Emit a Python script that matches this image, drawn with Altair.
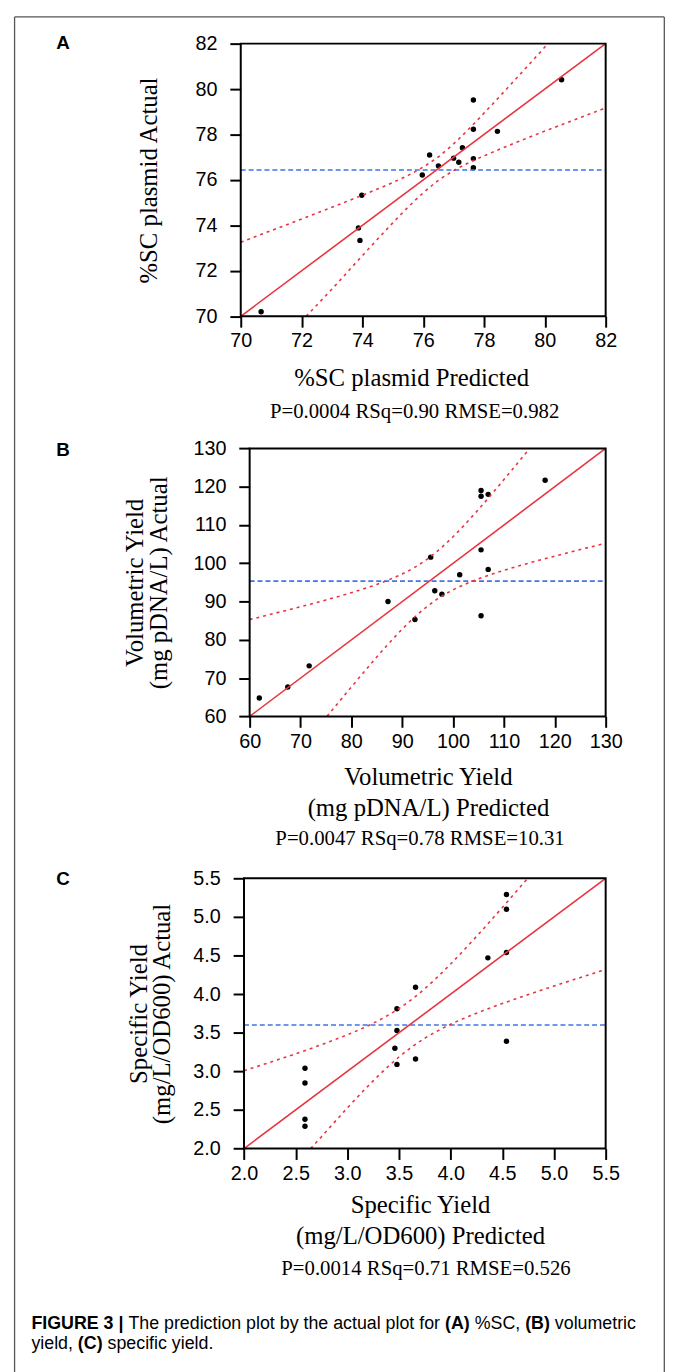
import altair as alt
import pandas as pd

# ---------------- data ----------------
# Panel A: %SC plasmid
a_pred = [70.67, 73.87, 73.92, 73.98, 75.97, 76.21, 76.50, 77.00, 77.17, 77.29, 77.65, 77.65, 77.65, 77.65, 78.44, 80.55]
a_act = [70.20, 73.89, 73.34, 75.33, 76.22, 77.10, 76.62, 76.96, 76.78, 77.42, 79.52, 78.23, 76.94, 76.54, 78.14, 80.41]
a_mean = 76.44
a_up_x = [70, 71, 72, 73, 74, 75, 75.5, 76, 76.5, 77, 77.5, 78, 79, 80, 80.1]
a_up_y = [73.26, 73.77, 74.28, 74.80, 75.33, 75.89, 76.20, 76.57, 77.02, 77.59, 78.24, 78.94, 80.38, 81.85, 82.0]
a_lo_x = [72.15, 73, 74, 75, 75.5, 76, 76.5, 77, 77.5, 78, 79, 80, 81, 82]
a_lo_y = [70.0, 71.20, 72.67, 74.11, 74.80, 75.43, 75.98, 76.41, 76.76, 77.06, 77.62, 78.15, 78.66, 79.17]
a_dom = [70, 82]
a_ticks = [70, 72, 74, 76, 78, 80, 82]

# Panel B: volumetric yield
b_pred = [61.9, 67.5, 71.7, 87.2, 92.5, 95.6, 96.4, 97.8, 101.3, 105.5, 105.5, 106.9, 105.5, 106.9, 105.5, 118.1]
b_act = [64.8, 67.7, 73.2, 90.0, 85.3, 101.6, 92.8, 91.9, 97.0, 119.0, 117.5, 118.0, 103.5, 98.4, 86.3, 121.7]
b_mean = 95.34
b_up_x = [60, 65, 70, 75, 80, 85, 90, 92.5, 95, 97.5, 100, 105, 110, 115.05]
b_up_y = [85.29, 86.95, 88.65, 90.42, 92.32, 94.48, 97.21, 98.98, 101.17, 103.83, 106.94, 114.07, 121.85, 130.0]
b_lo_x = [75.2, 80, 85, 90, 92.5, 95, 97.5, 100, 105, 110, 115, 120, 125, 130]
b_lo_y = [60.0, 67.68, 75.52, 82.79, 86.02, 88.83, 91.17, 93.06, 95.93, 98.15, 100.09, 101.88, 103.58, 105.25]
b_dom = [60, 130]
b_ticks = [60, 70, 80, 90, 100, 110, 120, 130]

# Panel C: specific yield
c_pred = [2.59, 2.59, 2.59, 2.59, 3.48, 3.48, 3.46, 3.48, 3.66, 3.66, 4.36, 4.54, 4.54, 4.54, 4.54]
c_act = [3.04, 2.85, 2.38, 2.29, 3.81, 3.53, 3.30, 3.09, 4.09, 3.16, 4.47, 5.29, 5.10, 4.54, 3.39]
c_mean = 3.60
c_up_x = [2.0, 2.25, 2.5, 2.75, 3.0, 3.25, 3.4, 3.5, 3.6, 3.75, 4.0, 4.25, 4.5, 4.745]
c_up_y = [3.008, 3.117, 3.228, 3.346, 3.474, 3.623, 3.731, 3.814, 3.908, 4.071, 4.391, 4.747, 5.122, 5.5]
c_lo_x = [2.645, 2.75, 3.0, 3.25, 3.4, 3.5, 3.6, 3.75, 4.0, 4.25, 4.5, 4.75, 5.0, 5.25, 5.5]
c_lo_y = [2.0, 2.154, 2.526, 2.877, 3.069, 3.186, 3.292, 3.429, 3.609, 3.753, 3.878, 3.994, 4.105, 4.213, 4.319]
c_dom = [2.0, 5.5]
c_ticks = [2.0, 2.5, 3.0, 3.5, 4.0, 4.5, 5.0, 5.5]

stats = ["P=0.0004 RSq=0.90 RMSE=0.982",
         "P=0.0047 RSq=0.78 RMSE=10.31",
         "P=0.0014 RSq=0.71 RMSE=0.526"]

# ---------------- styling ----------------
RED = "#e8343f"
BLUE = "#3f74ea"
SERIF = "Liberation Serif"
SANS = "Liberation Sans"
W = 369
one = pd.DataFrame({"k": [0]})


def text_layer(txt, x, y, size, font=SANS, weight="normal", align="center"):
    return alt.Chart(one).mark_text(
        font=font, fontSize=size, fontWeight=weight, color="black",
        align=align, baseline="middle"
    ).encode(x=alt.value(x), y=alt.value(y), text=alt.value(txt))


def rule_layer(x, x2, y, y2, color="#555555", width=1.3):
    return alt.Chart(one).mark_rule(color=color, strokeWidth=width).encode(
        x=alt.value(x), x2=alt.value(x2), y=alt.value(y), y2=alt.value(y2))


def panel(pred, act, mean, upx, upy, lox, loy, dom, ticks, fmt,
          H, top, x0, ytitle, ytx, yty, ylh, xtitle, xtx, xty, extra):
    xs = alt.Scale(domain=dom, range=[x0, W], nice=False, zero=False)
    ys = alt.Scale(domain=dom, range=[H, top], nice=False, zero=False)
    common = dict(labelFont=SANS, labelFontSize=20, labelColor="black",
                  tickSize=11, tickWidth=2, tickColor="black", domain=False,
                  grid=False, labelFlush=False, labelOverlap=False,
                  values=ticks, format=fmt,
                  titleFont=SERIF, titleFontSize=25, titleFontWeight="normal",
                  titleColor="black", titleBaseline="middle", titleAlign="center")
    xaxis = alt.Axis(title=xtitle, labelPadding=4, titleX=xtx, titleY=xty,
                     titleLineHeight=31, **common)
    yopts = dict(title=ytitle, labelPadding=13, titleX=ytx, titleY=yty,
                 titleAngle=270, titleLineHeight=ylh, **common)
    if x0:
        yopts["offset"] = -x0
    yaxis = alt.Axis(**yopts)

    def enc(ch):
        return ch.encode(x=alt.X("x:Q", scale=xs, axis=xaxis),
                         y=alt.Y("y:Q", scale=ys, axis=yaxis))

    pts = enc(alt.Chart(pd.DataFrame({"x": pred, "y": act})).mark_circle(
        size=30, color="black", opacity=1))
    mean_l = enc(alt.Chart(pd.DataFrame({"x": dom, "y": [mean, mean]})).mark_line(
        color=BLUE, strokeWidth=1.6, strokeDash=[5, 3]))
    diag = enc(alt.Chart(pd.DataFrame({"x": dom, "y": dom})).mark_line(
        color=RED, strokeWidth=1.6))
    up = enc(alt.Chart(pd.DataFrame({"x": upx, "y": upy})).mark_line(
        color=RED, strokeWidth=1.6, strokeDash=[3, 4], interpolate="monotone"))
    lo = enc(alt.Chart(pd.DataFrame({"x": lox, "y": loy})).mark_line(
        color=RED, strokeWidth=1.6, strokeDash=[3, 4], interpolate="monotone"))
    box = alt.Chart(one).mark_rect(fillOpacity=0, stroke="black", strokeWidth=2).encode(
        x=alt.value(x0), x2=alt.value(W), y=alt.value(top), y2=alt.value(H))
    return alt.layer(pts, mean_l, diag, up, lo, box, *extra).properties(width=W, height=H)


# Panel A (group origin on page: 242.7, 36)
extraA = [
    text_layer("A", -179.7, -1, 19, weight="bold"),
    text_layer(stats[0], 175.8, 373, 21, font=SERIF),
    rule_layer(-228.7, 428.3, -27, -27),
    rule_layer(-228.7, -228.7, -27, 1345),
    rule_layer(428.3, 428.3, -27, 1345),
]
pA = panel(a_pred, a_act, a_mean, a_up_x, a_up_y, a_lo_x, a_lo_y, a_dom, a_ticks, "d",
           275.7, 0, 0, "%SC plasmid Actual", -92.7, 137.9, 25,
           "%SC plasmid Predicted", 172.3, 62.3, extraA)

# Panel B (group origin on page: 242.7, 411.7)
extraB = [
    text_layer("B", -179.7, 35.3, 19, weight="bold"),
    text_layer(stats[1], 181.3, 428.3, 21, font=SERIF),
]
pB = panel(b_pred, b_act, b_mean, b_up_x, b_up_y, b_lo_x, b_lo_y, b_dom, b_ticks, "d",
           304.3, 33.3, 9, ["Volumetric Yield", "(mg pDNA/L) Actual"], -116.7, 168.8, 25,
           ["Volumetric Yield", "(mg pDNA/L) Predicted"], 189.3, 61, extraB)

# Panel C (group origin on page: 242.7, 816)
cap_y1 = 514
cap_y2 = 533.5
capx = -211.7
extraC = [
    text_layer("C", -179.7, 64, 19, weight="bold"),
    text_layer(stats[2], 187.3, 458, 21, font=SERIF),
    text_layer("FIGURE 3 |", capx, cap_y1, 18, weight="bold", align="left"),
    text_layer("The prediction plot by the actual plot for", capx + 98.1, cap_y1, 18, align="left"),
    text_layer("(A)", capx + 418.3, cap_y1, 18, weight="bold", align="left"),
    text_layer("%SC,", capx + 448.3, cap_y1, 18, align="left"),
    text_layer("(B)", capx + 499.3, cap_y1, 18, weight="bold", align="left"),
    text_layer("volumetric", capx + 529.3, cap_y1, 18, align="left"),
    text_layer("yield,", capx, cap_y2, 18, align="left"),
    text_layer("(C)", capx + 47, cap_y2, 18, weight="bold", align="left"),
    text_layer("specific yield.", capx + 77, cap_y2, 18, align="left"),
]
pC = panel(c_pred, c_act, c_mean, c_up_x, c_up_y, c_lo_x, c_lo_y, c_dom, c_ticks, ".1f",
           336.3, 63, 3.3, ["Specific Yield", "(mg/L/OD600) Actual"], -107, 199.7, 24,
           ["Specific Yield", "(mg/L/OD600) Predicted"], 181.3, 56.7, extraC)

chart = alt.vconcat(pA, pB, pC, spacing=100, bounds="flush").properties(
    padding={"left": 5.35, "top": 0.35, "right": 0, "bottom": 0}
).configure_view(stroke=None)

chart.save("out.html", embed_options={"renderer": "svg", "actions": False})
